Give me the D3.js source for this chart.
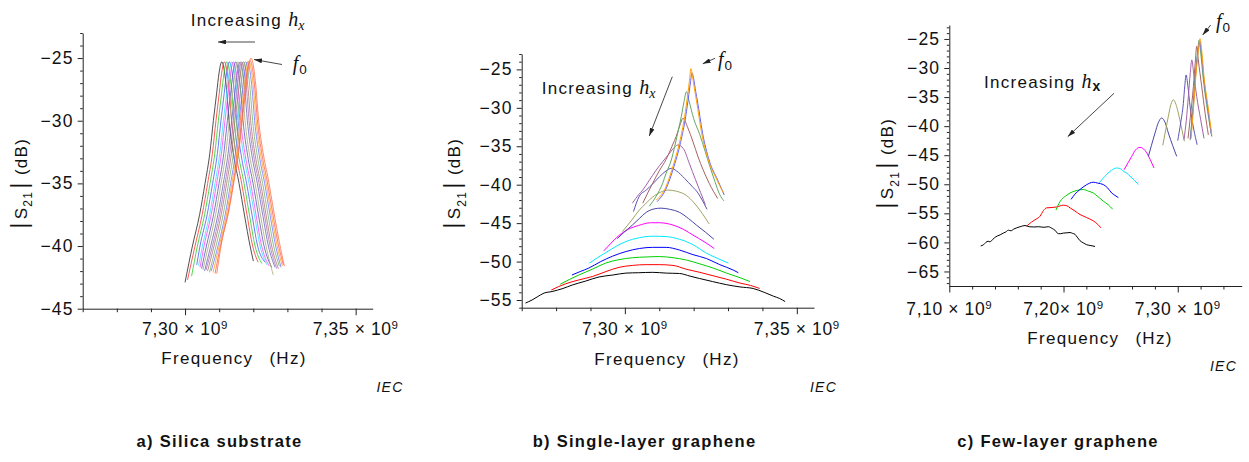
<!DOCTYPE html>
<html><head><meta charset="utf-8">
<script src="https://cdn.jsdelivr.net/npm/d3@7"></script>
<style>
body{margin:0;background:#fff}
svg text{white-space:pre}
</style></head><body>
<svg id="chart" width="1249" height="462" style="background:#fff"></svg>
<script>
// ---------------- DATA ----------------
// Panel a) Silica substrate : resonance peaks (GHz) and peak levels (dB)
const peakFreqA = [7.31076,7.31152,7.31222,7.31298,7.31369,7.31416,7.31486,7.31545,7.31612,7.31662,7.31709,7.31767,7.31826,7.31867,7.31905,7.31934];
const peakDbA   = [-25.3,-25.3,-25.3,-25.3,-25.3,-25.3,-25.3,-25.3,-25.3,-25.3,-25.3,-25.3,-25.3,-25.25,-25.2,-25.0];
// measured resonance profile between the sweep ends (offset from peak in MHz, level relative to peak in dB)
const shapeOffsetMHzA = [-8.6,-6.5,-4.9,-3.5,-2.46,-1.5,-0.8,0,0.8,1.4,2.14,3.5,5.07,6.7,8.3];
const shapeDropDbA    = [-14.7,-12.2,-9.7,-7.3,-4.7,-2.5,-0.9,0,-0.8,-2.2,-4.7,-7.5,-9.7,-12.3,-14.7];
// sweep end points of each trace (offset from its peak in MHz, level in dB)
const leftEndMHzA  = [-10.76,-10.8,-10.3,-9.55,-9.73,-9.76,-10.0,-10.2,-10.4,-10.46,-10.5,-10.5,-10.6,-10.46,-10.26,-10.05];
const leftEndDbA   = [-42.9,-42.7,-42.4,-41.5,-41.6,-41.7,-41.8,-41.9,-42.0,-41.9,-42.0,-42.1,-42.0,-42.1,-42.2,-42.2];
const rightEndMHzA = [9.26,9.9,10.3,10.5,10.3,10.5,10.55,10.4,10.26,10.26,10.26,9.96,9.88,9.85,9.76,9.76];
const rightEndDbA  = [-41.2,-41.3,-41.4,-41.3,-41.5,-41.6,-41.7,-42.3,-41.7,-41.8,-41.8,-41.6,-41.7,-41.6,-41.5,-41.6];

// Panel b) Single-layer graphene : [frequency GHz, |S21| dB]
const b_black = [[7.2711,-55.4],[7.2730,-55.0],[7.2745,-54.6],[7.2765,-54.1],[7.2788,-53.9],[7.2820,-53.5],[7.2847,-53.05],[7.2885,-52.55],[7.2925,-52.0],[7.2965,-51.75],[7.3003,-51.5],[7.3040,-51.45],[7.3081,-51.4],[7.3120,-51.5],[7.3159,-51.55],[7.3190,-51.9],[7.3217,-52.2],[7.3255,-52.6],[7.3295,-53.0],[7.3335,-53.3],[7.3373,-53.5],[7.3405,-54.0],[7.3432,-54.5],[7.3450,-54.8],[7.3466,-55.2]];
const b_red = [[7.2786,-53.7],[7.2827,-52.9],[7.2865,-52.4],[7.2905,-51.95],[7.2945,-51.3],[7.2983,-50.75],[7.3022,-50.5],[7.3062,-50.4],[7.3100,-50.4],[7.3140,-50.5],[7.3179,-51.0],[7.3218,-51.4],[7.3257,-51.85],[7.3296,-52.3],[7.3335,-52.8],[7.3365,-53.1],[7.3392,-53.5]];
const b_green = [[7.2812,-52.95],[7.2840,-52.3],[7.2866,-51.75],[7.2905,-51.0],[7.2944,-50.2],[7.2983,-49.75],[7.3022,-49.5],[7.3062,-49.4],[7.3101,-49.35],[7.3140,-49.5],[7.3179,-49.8],[7.3218,-50.3],[7.3257,-50.85],[7.3296,-51.5],[7.3335,-52.1],[7.3364,-52.6]];
const b_blue = [[7.2846,-51.75],[7.2870,-51.3],[7.2895,-50.85],[7.2930,-50.0],[7.2964,-49.3],[7.3003,-48.7],[7.3042,-48.3],[7.3081,-48.15],[7.3120,-48.15],[7.3159,-48.5],[7.3198,-49.1],[7.3237,-49.6],[7.3276,-50.4],[7.3315,-51.1],[7.3330,-51.45]];
const b_cyan = [[7.2897,-50.2],[7.2920,-49.5],[7.2944,-48.85],[7.2975,-48.0],[7.3003,-47.4],[7.3042,-46.9],[7.3081,-46.7],[7.3120,-46.75],[7.3159,-47.1],[7.3198,-47.8],[7.3237,-48.9],[7.3270,-49.6],[7.3301,-50.2]];
const b_magenta = [[7.2939,-48.6],[7.2960,-47.6],[7.2983,-46.6],[7.3010,-45.8],[7.3040,-45.3],[7.3075,-44.95],[7.3100,-44.95],[7.3140,-45.25],[7.3170,-45.8],[7.3198,-46.55],[7.3230,-47.4],[7.3260,-48.3]];
const b_slate = [[7.2978,-47.0],[7.3000,-46.1],[7.3022,-45.25],[7.3042,-44.4],[7.3062,-43.6],[7.3085,-43.15],[7.3105,-43.05],[7.3130,-43.2],[7.3159,-43.6],[7.3185,-44.4],[7.3208,-45.25],[7.3235,-46.2],[7.3259,-47.1]];
const b_olive = [[7.2993,-46.1],[7.3020,-44.6],[7.3042,-43.3],[7.3062,-42.4],[7.3081,-41.6],[7.3105,-40.95],[7.3125,-40.7],[7.3150,-40.85],[7.3179,-41.4],[7.3200,-42.3],[7.3218,-43.3],[7.3232,-44.2],[7.3245,-45.1]];
const b_navy = [[7.3025,-43.5],[7.3042,-41.5],[7.3062,-40.7],[7.3081,-39.9],[7.3101,-38.95],[7.3120,-38.2],[7.3135,-37.87],[7.3150,-38.2],[7.3174,-39.2],[7.3195,-40.2],[7.3213,-41.1],[7.3226,-42.1],[7.3239,-43.2]];
const b_purple = [[7.3022,-42.4],[7.3040,-41.3],[7.3052,-40.7],[7.3070,-39.5],[7.3091,-38.1],[7.3110,-37.0],[7.3130,-35.9],[7.3145,-35.1],[7.3154,-34.83],[7.3170,-35.3],[7.3188,-37.3],[7.3205,-39.3],[7.3220,-41.0],[7.3234,-42.6]];
const b_brown = [[7.3052,-42.4],[7.3081,-39.8],[7.3100,-38.2],[7.3120,-36.7],[7.3140,-34.7],[7.3149,-33.75],[7.3160,-32.3],[7.3169,-31.36],[7.3183,-32.6],[7.3198,-34.4],[7.3213,-36.4],[7.3227,-38.0],[7.3245,-39.8],[7.3270,-41.8]];
const b_sea = [[7.3071,-42.8],[7.3091,-41.5],[7.3110,-39.8],[7.3120,-38.5],[7.3135,-36.8],[7.3145,-35.0],[7.3157,-32.6],[7.3164,-31.15],[7.3172,-29.2],[7.3179,-27.9],[7.3186,-29.0],[7.3200,-31.4],[7.3218,-33.5],[7.3233,-35.6],[7.3247,-37.6],[7.3262,-39.6],[7.3276,-41.3],[7.3288,-42.1]];
const b_royal = [[7.3094,-42.2],[7.3119,-40.6],[7.3143,-37.6],[7.3162,-34.5],[7.3177,-31.1],[7.3186,-28.3],[7.3191,-26.6],[7.3195,-25.45],[7.3200,-26.2],[7.3206,-27.9],[7.3211,-29.1],[7.3226,-33.3],[7.3245,-36.8],[7.3270,-39.4],[7.3289,-41.35]];
const b_orange = [[7.3091,-42.0],[7.3116,-40.6],[7.3140,-37.6],[7.3159,-34.5],[7.3174,-31.1],[7.3183,-28.2],[7.3188,-26.4],[7.3192,-24.9],[7.3197,-26.0],[7.3203,-27.7],[7.3208,-29.0],[7.3223,-33.2],[7.3242,-36.7],[7.3267,-39.3],[7.3287,-41.1]];

// Panel c) Few-layer graphene : [frequency GHz, |S21| dB]
const c_black = [[7.1275,-60.6],[7.1300,-60.4],[7.1320,-60.0],[7.1340,-59.8],[7.1355,-59.9],[7.1371,-59.7],[7.1395,-59.2],[7.1420,-58.9],[7.1445,-58.7],[7.1473,-58.4],[7.1495,-58.2],[7.1517,-57.9],[7.1540,-58.0],[7.1565,-57.7],[7.1590,-57.5],[7.1620,-57.3],[7.1663,-57.1],[7.1700,-57.3],[7.1740,-57.35],[7.1780,-57.3],[7.1830,-57.4],[7.1867,-57.3],[7.1900,-57.6],[7.1925,-57.9],[7.1954,-58.5],[7.1975,-58.5],[7.1998,-58.4],[7.2030,-58.35],[7.2057,-58.3],[7.2080,-58.45],[7.2100,-58.6],[7.2120,-59.1],[7.2144,-59.7],[7.2175,-60.1],[7.2203,-60.4],[7.2240,-60.55],[7.2276,-60.7]];
const c_red = [[7.1678,-57.2],[7.1720,-56.5],[7.1760,-56.0],[7.1794,-55.5],[7.1825,-54.5],[7.1853,-54.05],[7.1900,-54.0],[7.1940,-53.9],[7.1999,-53.6],[7.2030,-53.7],[7.2057,-54.05],[7.2100,-54.6],[7.2144,-55.2],[7.2200,-55.7],[7.2261,-56.3],[7.2300,-56.9],[7.2328,-57.5]];
const c_green = [[7.1934,-54.45],[7.1960,-53.3],[7.1984,-52.6],[7.2020,-52.0],[7.2057,-51.5],[7.2110,-51.1],[7.2173,-50.9],[7.2220,-51.2],[7.2261,-51.5],[7.2300,-52.1],[7.2348,-52.9],[7.2390,-53.5],[7.2431,-54.3]];
const c_blue = [[7.2066,-52.6],[7.2100,-51.7],[7.2144,-50.9],[7.2200,-50.1],[7.2261,-49.65],[7.2300,-49.8],[7.2348,-50.05],[7.2385,-50.6],[7.2422,-51.5],[7.2450,-51.9],[7.2480,-52.3]];
const c_cyan = [[7.2313,-49.75],[7.2345,-49.0],[7.2378,-48.3],[7.2420,-47.6],[7.2466,-47.2],[7.2495,-47.3],[7.2524,-47.76],[7.2555,-48.1],[7.2582,-48.6],[7.2620,-49.3],[7.2655,-50.05]];
const c_magenta = [[7.2530,-47.5],[7.2565,-46.3],[7.2597,-45.2],[7.2630,-44.1],[7.2670,-43.65],[7.2700,-43.9],[7.2729,-44.6],[7.2760,-45.8],[7.2792,-47.2]];
const c_slate = [[7.2743,-45.2],[7.2770,-43.3],[7.2801,-41.2],[7.2830,-39.4],[7.2860,-38.6],[7.2890,-39.4],[7.2918,-41.2],[7.2955,-43.3],[7.2991,-45.2]];
const c_olive = [[7.2869,-43.3],[7.2895,-40.6],[7.2918,-38.3],[7.2940,-36.3],[7.2962,-35.46],[7.2985,-36.3],[7.3005,-37.75],[7.3030,-40.0],[7.3058,-42.6]];
const c_navy = [[7.3000,-42.5],[7.3025,-39.5],[7.3049,-36.1],[7.3062,-33.0],[7.3073,-31.2],[7.3088,-33.0],[7.3108,-36.6],[7.3140,-40.5],[7.3170,-43.2]];
const c_purple = [[7.3055,-42.3],[7.3075,-39.0],[7.3093,-34.9],[7.3110,-30.8],[7.3123,-28.6],[7.3140,-31.0],[7.3166,-34.9],[7.3200,-38.8],[7.3230,-42.1]];
const c_brown = [[7.3090,-42.1],[7.3110,-38.5],[7.3137,-33.2],[7.3155,-28.6],[7.3166,-26.25],[7.3180,-28.6],[7.3210,-33.2],[7.3240,-37.8],[7.3268,-41.5]];
const c_sea = [[7.3108,-42.4],[7.3130,-37.5],[7.3151,-32.0],[7.3175,-27.0],[7.3187,-25.2],[7.3200,-27.2],[7.3224,-32.0],[7.3262,-37.5],[7.3298,-41.8]];
const c_royal = [[7.3112,-42.2],[7.3135,-37.0],[7.3155,-31.7],[7.3180,-26.8],[7.3192,-25.4],[7.3205,-27.0],[7.3228,-31.7],[7.3265,-37.2],[7.3296,-41.6]];
const c_orange = [[7.3117,-42.1],[7.3138,-36.8],[7.3158,-31.5],[7.3183,-26.6],[7.3195,-24.95],[7.3208,-26.6],[7.3230,-31.5],[7.3268,-37.0],[7.3298,-41.5]];

// tick values and labels
const xMajorAB = [7.30, 7.35];
const xLabelsAB = ["7,30 × 10", "7,35 × 10"];
const xMinorAB = [7.27, 7.28, 7.29, 7.31, 7.32, 7.33, 7.34];
const xMajorC = [7.10, 7.20, 7.30];
const xLabelsC = ["7,10 × 10", "7,20× 10", "7,30 × 10"];
const xMinorC = [7.12, 7.14, 7.16, 7.18, 7.22, 7.24, 7.26, 7.28, 7.32, 7.34];
const xExponent = "9";
const yMajorA = [-45, -40, -35, -30, -25];
const yMajorB = [-55, -50, -45, -40, -35, -30, -25];
const yMajorC = [-65, -60, -55, -50, -45, -40, -35, -30, -25];
const captions = ["a) Silica substrate", "b) Single-layer graphene", "c) Few-layer graphene"];

// ---------------- DRAWING ----------------
const FONT = '"Liberation Sans", Arial, Helvetica, sans-serif';
const SERIF = '"Liberation Serif", "Times New Roman", serif';
const svg = d3.select("#chart");

const palette = ["#000000","#ff0000","#00d000","#0000ff","#00e8ff","#ff00ff","#4646a8","#a2a262","#5c54b4","#a262a8","#a86262","#62a862","#6464ff","#ffa000"];
const paletteA = ["#222222","#ff3030","#20d020","#5050ff","#30e0ff","#ff40ff","#5656b0","#a8a870","#6a62bc","#aa72b0","#b07070","#72b072","#7272ff","#ffa020","#ff5a4a","#ff7040"];

const seriesA = peakFreqA.map((f0, i) => [[f0 + leftEndMHzA[i] / 1000, leftEndDbA[i]]]
  .concat(shapeOffsetMHzA.map((o, j) => [f0 + o / 1000, peakDbA[i] + shapeDropDbA[j]]))
  .concat([[f0 + rightEndMHzA[i] / 1000, rightEndDbA[i]]]));
const seriesB = [b_black,b_red,b_green,b_blue,b_cyan,b_magenta,b_slate,b_olive,b_navy,b_purple,b_brown,b_sea,b_royal,b_orange];
const seriesC = [c_black,c_red,c_green,c_blue,c_cyan,c_magenta,c_slate,c_olive,c_navy,c_purple,c_brown,c_sea,c_royal,c_orange];

const defs = svg.append("defs");
defs.append("marker").attr("id","ah").attr("viewBox","0 0 10 6").attr("refX",10).attr("refY",3)
  .attr("markerWidth",8).attr("markerHeight",4.8).attr("markerUnits","userSpaceOnUse").attr("orient","auto")
  .append("path").attr("d","M0,0L10,3L0,6z").attr("fill","#222");

function intRange(a, b, exclude) {
  const out = [];
  for (let v = a; v <= b; v++) if (!exclude.includes(v)) out.push(v);
  return out;
}

function drawPanel(p) {
  const x = d3.scaleLinear().domain(p.xDomain).range([p.x0, p.x1]);
  const y = d3.scaleLinear().domain(p.yDomain).range([p.y0, p.y1]);
  const g = svg.append("g");
  const line = d3.line().x(d => x(d[0])).y(d => y(d[1])).curve(d3.curveMonotoneX);
  p.series.forEach((s, i) => {
    g.append("path").attr("d", line(s)).attr("fill","none")
      .attr("stroke", p.colors[i % p.colors.length]).attr("stroke-width", p.lw);
  });
  const yMinor = intRange(Math.ceil(p.yDomain[0]), Math.floor(p.yDomain[1]), p.yMajor);
  g.append("g").attr("transform", `translate(${p.x0},0)`)
    .call(d3.axisLeft(y).tickValues(yMinor).tickSize(2.5).tickSizeOuter(0).tickFormat(""))
    .call(a => a.select(".domain").remove());
  const ya = g.append("g").attr("transform", `translate(${p.x0},0)`)
    .call(d3.axisLeft(y).tickValues(p.yMajor).tickSize(5).tickSizeOuter(0).tickPadding(4).tickFormat(d3.format("d")));
  ya.attr("font-size", null).attr("font-family", null);
  ya.selectAll("text").attr("font-family", FONT).attr("font-size", 17.5).attr("letter-spacing", 1.2).attr("fill","#111");
  g.append("g").attr("transform", `translate(0,${p.y0})`)
    .call(d3.axisBottom(x).tickValues(p.xMinor).tickSize(3.5).tickSizeOuter(0).tickFormat(""))
    .call(a => a.select(".domain").remove());
  g.append("g").attr("transform", `translate(0,${p.y0})`)
    .call(d3.axisBottom(x).tickValues(p.xMajor).tickSize(6.5).tickSizeOuter(0).tickFormat(""));
  g.selectAll(".domain, .tick line").attr("stroke", "#222");
  p.xMajor.forEach((v, i) => {
    const t = g.append("text").attr("x", x(v)).attr("y", p.y0 + p.xLabelDy).attr("text-anchor","middle")
      .attr("font-family", FONT).attr("font-size", 17.5).attr("letter-spacing", 0.6).attr("fill","#111");
    t.append("tspan").text(p.xLabels[i]);
    t.append("tspan").attr("font-size", 11.5).attr("dy", -6.5).text(xExponent);
  });
  g.append("text").attr("x", p.xTitle[0]).attr("y", p.xTitle[1]).attr("text-anchor","middle")
    .attr("font-family", FONT).attr("font-size", 17).attr("letter-spacing", 1.3).attr("word-spacing", 2).attr("fill","#111")
    .text("Frequency  (Hz)");
  const yt = g.append("text").attr("transform", `translate(${p.yTitle[0]},${p.yTitle[1]}) rotate(-90)`)
    .attr("text-anchor","middle").attr("font-family", FONT).attr("font-size", 17).attr("letter-spacing", 1.3).attr("fill","#111");
  yt.append("tspan").attr("font-size", 24).text("|");
  yt.append("tspan").attr("dx", 2).text("S");
  yt.append("tspan").attr("font-size", 12).attr("dy", 5.6).text("21");
  yt.append("tspan").attr("font-size", 24).attr("dy", -5.6).attr("dx", 2).text("|");
  yt.append("tspan").text(" (dB)");
  g.append("text").attr("x", p.iec[0]).attr("y", p.iec[1]).attr("font-family", FONT).attr("font-size", 14)
    .attr("font-style","italic").attr("letter-spacing", 1.2).attr("fill","#111").text("IEC");
  g.append("text").attr("x", p.caption[0]).attr("y", 447).attr("text-anchor","middle").attr("font-family", FONT)
    .attr("font-size", 16.5).attr("font-weight","bold").attr("letter-spacing", 1.3).attr("fill","#111").text(p.captionText);
  return {x, y, g};
}

function arrow(x1, y1, x2, y2) {
  svg.append("line").attr("x1",x1).attr("y1",y1).attr("x2",x2).attr("y2",y2)
    .attr("stroke","#333").attr("stroke-width",0.9).attr("marker-end","url(#ah)");
}
function increasing(xs, yb, sansSub) {
  const t = svg.append("text").attr("x", xs).attr("y", yb).attr("font-family", FONT).attr("font-size", 17)
    .attr("letter-spacing", 1.3).attr("fill","#111");
  t.append("tspan").text("Increasing ");
  t.append("tspan").attr("font-family", SERIF).attr("font-style","italic").attr("font-size", 20).attr("letter-spacing", 0).text("h");
  if (sansSub) {
    t.append("tspan").attr("font-family", FONT).attr("font-size", 14).attr("font-weight","bold").attr("dy", 3.5).attr("dx", 1).text("x");
  } else {
    t.append("tspan").attr("font-family", SERIF).attr("font-style","italic").attr("font-size", 14).attr("dy", 4).text("x");
  }
}
function fzero(xs, yb) {
  const t = svg.append("text").attr("x", xs).attr("y", yb).attr("fill","#111");
  t.append("tspan").attr("font-family", SERIF).attr("font-style","italic").attr("font-size", 20).text("f");
  t.append("tspan").attr("font-family", FONT).attr("font-size", 13.5).attr("dy", 4).attr("dx", 1).text("0");
}

drawPanel({series: seriesA, colors: paletteA, lw: 0.8, xDomain: [7.27, 7.355], yDomain: [-45, -23],
  x0: 82.7, x1: 372.7, y0: 308.7, y1: 33, xMajor: xMajorAB, xMinor: xMinorAB, xLabels: xLabelsAB,
  yMajor: yMajorA, xLabelDy: 26.5, xTitle: [234, 364], yTitle: [26.7, 183.3], iec: [376.5, 391.7],
  caption: [219.5], captionText: captions[0]});
drawPanel({series: seriesB, colors: palette, lw: 1, xDomain: [7.27, 7.355], yDomain: [-56, -23],
  x0: 521.7, x1: 814, y0: 307.7, y1: 54, xMajor: xMajorAB, xMinor: xMinorAB, xLabels: xLabelsAB,
  yMajor: yMajorB, xLabelDy: 27.5, xTitle: [667, 365], yTitle: [460, 183.3], iec: [810, 391.7],
  caption: [644.5], captionText: captions[1]});
drawPanel({series: seriesC, colors: palette, lw: 1, xDomain: [7.10, 7.356], yDomain: [-67.5, -22.6],
  x0: 949.3, x1: 1241.7, y0: 286, y1: 25, xMajor: xMajorC, xMinor: xMinorC, xLabels: xLabelsC,
  yMajor: yMajorC, xLabelDy: 29, xTitle: [1100, 344], yTitle: [893, 163.3], iec: [1210, 371],
  caption: [1058], captionText: captions[2]});

increasing(190.7, 26, false);
arrow(255, 42, 218, 42);
fzero(292.7, 70);
arrow(282, 64.5, 254, 59.5);
increasing(541.7, 94, false);
arrow(672.3, 76.7, 649.3, 136);
fzero(718, 66);
arrow(715, 58.3, 702.7, 63.8);
increasing(984, 87.7, true);
arrow(1114, 93.3, 1067.7, 136.7);
fzero(1216, 28);
arrow(1210.7, 25, 1202.7, 35);
</script>
</body></html>
